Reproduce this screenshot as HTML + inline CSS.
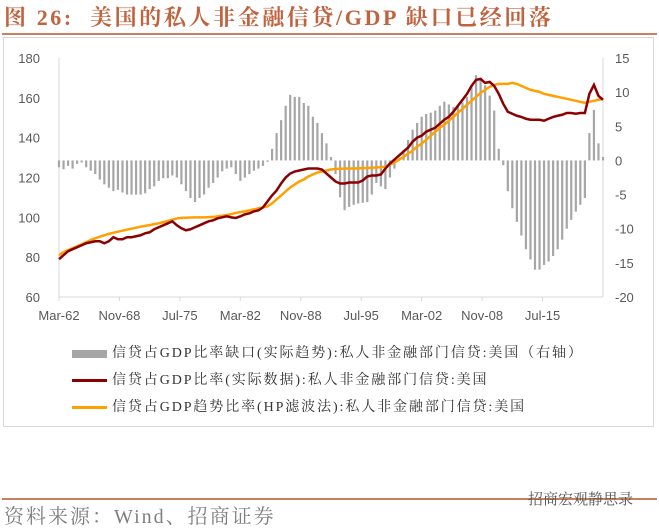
<!DOCTYPE html>
<html><head><meta charset="utf-8"><style>
body{margin:0;width:659px;height:530px;background:#fff;position:relative;overflow:hidden;font-family:"Liberation Serif","Noto Serif CJK SC",serif}
.t{position:absolute;white-space:nowrap}
</style></head><body>
<div class="t" style="left:4px;top:1px;font-size:22px;letter-spacing:2.6px;font-weight:bold;color:#c0633f">图 26:&nbsp; 美国的私人非金融信贷/GDP 缺口已经回落</div>
<div style="position:absolute;left:2px;top:33px;width:655px;height:2px;background:#c8805f"></div>
<div style="position:absolute;left:3px;top:37px;width:651px;height:390px;border:1px solid #d9d9d9;box-sizing:border-box"></div>
<svg id="c" width="659" height="530" style="position:absolute;left:0;top:0" font-family="Liberation Sans, sans-serif"></svg>
<div class="t" style="left:72px;top:342px;font-size:14px;letter-spacing:1.9px;color:#333"><span style="display:inline-block;width:35px;height:8px;background:#a6a6a6;vertical-align:middle;margin-right:5px"></span>信贷占GDP比率缺口(实际趋势):私人非金融部门信贷:美国（右轴）</div>
<div class="t" style="left:72px;top:369px;font-size:14px;letter-spacing:1.9px;color:#333"><span style="display:inline-block;width:35px;height:3px;background:#8b0000;vertical-align:middle;margin-right:5px"></span>信贷占GDP比率(实际数据):私人非金融部门信贷:美国</div>
<div class="t" style="left:72px;top:396px;font-size:14px;letter-spacing:1.9px;color:#333"><span style="display:inline-block;width:35px;height:3px;background:#ffa000;vertical-align:middle;margin-right:5px"></span>信贷占GDP趋势比率(HP滤波法):私人非金融部门信贷:美国</div>
<div style="position:absolute;left:2px;top:498px;width:655px;height:2px;background:#c8805f"></div>
<div class="t" style="left:4px;top:500px;font-size:20px;letter-spacing:2px;color:#7f7f7f">资料来源：Wind、招商证券</div>
<div class="t" style="left:528px;top:488px;font-size:15px;color:#555">招商宏观静思录</div>
<script>
const ratio=[79,81,83,84,85,86,87,87.5,88,88,87,88,90,89,89,90,90,90.5,91,92,92.5,94,95,96,97,98,96,94.5,93.5,94,95,96,97,98,98.5,99.5,100,100.5,100,99.7,100.5,101.5,102,103,103.5,105,108,111,113.5,117,120,122,123,123.5,124,124.5,124.5,124.5,124,122,120,118,117,117,117.5,117.5,117.5,118.5,120.5,121,121,121.5,124.5,127,129,131,133,135,138,140,141,143,144,145,147,149,150.5,153,156,159,162,166,169,169.5,167.5,168,166,162,157,153,152,151,150.4,149.5,149,149,149,148.5,149.5,150.4,151,151.5,152.4,152.4,152,152.4,152.4,162,166.5,161,159];
const trend=[81,82.5,83.5,84.5,85.5,86.5,87.5,88.6,89.5,90.3,91,91.7,92.3,92.8,93.3,93.8,94.3,94.8,95.3,95.7,96.1,96.6,97,97.6,98.2,98.8,99.4,99.7,99.8,99.9,100,100,100,100.1,100.2,100.5,100.8,101.2,101.6,102.2,102.6,103,103.5,104,104.5,105,105.5,107,109,111,113,115,116.5,118,119,120.5,121.5,122.5,123,123.5,124,124.3,124.3,124.5,124.5,124.5,124.6,124.7,124.8,124.9,125,125.2,125.4,126.5,127.5,129,130.3,132,133.5,135.5,137,139,141,143,145,146.5,148.5,150.5,152.5,154.5,156.5,158.5,160.5,162.5,164,165.5,166.5,167,167,167,167.5,167,166,165,164,163.5,163,162,161.5,161,160.5,160,159.5,159,158.5,158,157.5,158,158.5,159,159.4];
const gap=[-1,-1.3,-0.8,-1.2,-0.5,-0.3,-1,-1.5,-2,-2.8,-3.5,-4,-4.5,-4.3,-4.7,-5,-5,-5,-5,-4.8,-4.2,-3.8,-3,-2.6,-2.6,-2.2,-2.5,-3.5,-4.5,-5.5,-6.1,-5.5,-5,-4,-3.3,-2.5,-1.6,-1.2,-1,-2,-3,-2.5,-2,-1.5,-1.2,-0.8,-0.2,1.7,4,5.9,8,9.6,9.3,9.3,8.4,8,6.4,5.5,4,2.5,0.5,-2,-5.4,-7.3,-6.8,-6.5,-6.3,-6.2,-6.1,-5,-3.3,-3.8,-4.2,-2.5,-1.2,0,1.5,3,4.5,5.5,6.4,6.8,7,7.3,8,8.6,8.2,7.8,8,8.5,9.3,11,12.5,12,11,9.5,7.3,1.7,-0.7,-4.5,-7,-9,-11,-13,-14.5,-16,-16,-15.3,-14.8,-14,-13,-11.6,-10,-8.7,-7.5,-6.5,-5.5,4,7.4,2.5,0.5];
const xLabels=["Mar-62","Nov-68","Jul-75","Mar-82","Nov-88","Jul-95","Mar-02","Nov-08","Jul-15"];
const leftTicks=[60,80,100,120,140,160,180];
const rightTicks=[-20,-15,-10,-5,0,5,10,15];
const X0=59,X1=603,YT=58,YB=297;
const xs=i=>X0+i*(X1-X0)/(ratio.length-1);
const yl=v=>YB-(v-60)/120*(YB-YT);
const yr=v=>YB-(v+20)/35*(YB-YT);
const svg=document.getElementById('c');const NS='http://www.w3.org/2000/svg';
function mk(t,a){const e=document.createElementNS(NS,t);for(const k in a)e.setAttribute(k,a[k]);svg.appendChild(e);return e;}
let e;
e=mk('line',{x1:X0,y1:YT,x2:X0,y2:YB,stroke:'#d9d9d9'});


e=mk('line',{x1:X1,y1:YT,x2:X1,y2:YB,stroke:'#d9d9d9'});


e=mk('line',{x1:X0,y1:YB,x2:X1,y2:YB,stroke:'#d9d9d9'});


leftTicks.forEach(v=>{e=mk('text',{x:40,y:yl(v)+5,'text-anchor':'end','font-size':13,fill:'#595959'});e.textContent=v;

});
rightTicks.forEach(v=>{e=mk('text',{x:615,y:yr(v)+5,'font-size':13,fill:'#595959'});e.textContent=v;

});
xLabels.forEach((l,k)=>{const x=xs(k*80/6);mk('line',{x1:x,y1:YB,x2:x,y2:YB+4,stroke:'#d9d9d9'});
e=mk('text',{x:x,y:YB+23,'text-anchor':'middle','font-size':13,fill:'#595959'});e.textContent=l;

});
gap.forEach((v,i)=>{const y0=yr(0),y1=yr(v);e=mk('rect',{x:xs(i)-1.1,y:Math.min(y0,y1),width:2.2,height:Math.max(0.5,Math.abs(y1-y0)),fill:'#a6a6a6'});

});
e=mk('polyline',{points:trend.map((v,i)=>xs(i)+','+yl(v)).join(' '),fill:'none',stroke:'#ffa000','stroke-width':2.5});


e=mk('polyline',{points:ratio.map((v,i)=>xs(i)+','+yl(v)).join(' '),fill:'none',stroke:'#8b0000','stroke-width':2.5});


</script>
</body></html>
